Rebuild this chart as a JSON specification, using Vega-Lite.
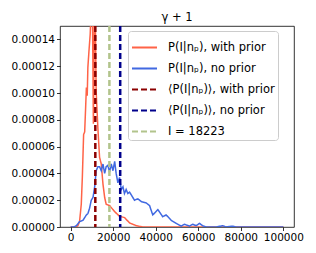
{
  "$schema": "https://vega.github.io/schema/vega-lite/v6.json",
  "width": 234,
  "height": 201,
  "autosize": "none",
  "padding": {"left": 60, "top": 26, "right": 22, "bottom": 26},
  "background": "white",
  "config": {
    "font": "DejaVu Sans",
    "view": {"stroke": "#000", "strokeWidth": 0.8},
    "axis": {
      "grid": false, "domain": false, "labelFont": "DejaVu Sans", "labelFontSize": 10.5,
      "labelColor": "#000", "tickColor": "#000", "tickSize": 3.5, "tickWidth": 0.8,
      "labelPadding": 2, "title": null
    },
    "legend": {
      "orient": "none", "legendX": 68, "legendY": 5,
      "fillColor": "rgba(255,255,255,0.8)", "strokeColor": "#cccccc", "cornerRadius": 3,
      "padding": 3, "symbolType": "stroke", "symbolSize": 625, "symbolStrokeWidth": 2,
      "rowPadding": 2, "labelFont": "DejaVu Sans", "labelFontSize": 11.5, "labelColor": "#000",
      "labelOffset": 10, "labelLimit": 200
    }
  },
  "title": {"text": "γ + 1", "fontSize": 11.5, "fontWeight": "normal", "font": "DejaVu Sans", "color": "#000", "offset": 3},
  "datasets": {
    "curves": [
      {"series": "P(I|nₚ), with prior", "x": 0, "y": 0},
      {"series": "P(I|nₚ), with prior", "x": 2500, "y": 0},
      {"series": "P(I|nₚ), with prior", "x": 3400, "y": 0.000001},
      {"series": "P(I|nₚ), with prior", "x": 4200, "y": 0.000004},
      {"series": "P(I|nₚ), with prior", "x": 5000, "y": 0.000017},
      {"series": "P(I|nₚ), with prior", "x": 5500, "y": 0.000037},
      {"series": "P(I|nₚ), with prior", "x": 6100, "y": 0.000069},
      {"series": "P(I|nₚ), with prior", "x": 6600, "y": 0.000071},
      {"series": "P(I|nₚ), with prior", "x": 7000, "y": 0.000087},
      {"series": "P(I|nₚ), with prior", "x": 7400, "y": 0.000104},
      {"series": "P(I|nₚ), with prior", "x": 7800, "y": 0.000098},
      {"series": "P(I|nₚ), with prior", "x": 8100, "y": 0.000119},
      {"series": "P(I|nₚ), with prior", "x": 8600, "y": 0.000131},
      {"series": "P(I|nₚ), with prior", "x": 9200, "y": 0.000144},
      {"series": "P(I|nₚ), with prior", "x": 9700, "y": 0.000165},
      {"series": "P(I|nₚ), with prior", "x": 10200, "y": 0.00017},
      {"series": "P(I|nₚ), with prior", "x": 10700, "y": 0.000077},
      {"series": "P(I|nₚ), with prior", "x": 11200, "y": 0.00016},
      {"series": "P(I|nₚ), with prior", "x": 11600, "y": 0.000155},
      {"series": "P(I|nₚ), with prior", "x": 12000, "y": 0.000101},
      {"series": "P(I|nₚ), with prior", "x": 12800, "y": 0.000074},
      {"series": "P(I|nₚ), with prior", "x": 13600, "y": 0.000052},
      {"series": "P(I|nₚ), with prior", "x": 14400, "y": 0.000047},
      {"series": "P(I|nₚ), with prior", "x": 15200, "y": 0.000032},
      {"series": "P(I|nₚ), with prior", "x": 16000, "y": 0.000022},
      {"series": "P(I|nₚ), with prior", "x": 16700, "y": 0.000017},
      {"series": "P(I|nₚ), with prior", "x": 18300, "y": 0.000016},
      {"series": "P(I|nₚ), with prior", "x": 19900, "y": 0.000013},
      {"series": "P(I|nₚ), with prior", "x": 21000, "y": 0.000011},
      {"series": "P(I|nₚ), with prior", "x": 23000, "y": 0.000008},
      {"series": "P(I|nₚ), with prior", "x": 25400, "y": 0.000007},
      {"series": "P(I|nₚ), with prior", "x": 27700, "y": 0.000003},
      {"series": "P(I|nₚ), with prior", "x": 30800, "y": 0.000001},
      {"series": "P(I|nₚ), with prior", "x": 34000, "y": 0},
      {"series": "P(I|nₚ), with prior", "x": 100000, "y": 0},
      {"series": "P(I|nₚ), no prior", "x": 0, "y": 0},
      {"series": "P(I|nₚ), no prior", "x": 1500, "y": 0},
      {"series": "P(I|nₚ), no prior", "x": 2700, "y": 0.000001},
      {"series": "P(I|nₚ), no prior", "x": 4200, "y": 0.000004},
      {"series": "P(I|nₚ), no prior", "x": 5800, "y": 0.000005},
      {"series": "P(I|nₚ), no prior", "x": 7400, "y": 0.000009},
      {"series": "P(I|nₚ), no prior", "x": 8100, "y": 0.00001},
      {"series": "P(I|nₚ), no prior", "x": 8900, "y": 0.000014},
      {"series": "P(I|nₚ), no prior", "x": 9700, "y": 0.00002},
      {"series": "P(I|nₚ), no prior", "x": 10500, "y": 0.000022},
      {"series": "P(I|nₚ), no prior", "x": 11300, "y": 0.00003},
      {"series": "P(I|nₚ), no prior", "x": 12000, "y": 0.000042},
      {"series": "P(I|nₚ), no prior", "x": 12800, "y": 0.000045},
      {"series": "P(I|nₚ), no prior", "x": 13600, "y": 0.000045},
      {"series": "P(I|nₚ), no prior", "x": 14400, "y": 0.000042},
      {"series": "P(I|nₚ), no prior", "x": 15200, "y": 0.000047},
      {"series": "P(I|nₚ), no prior", "x": 16000, "y": 0.00004},
      {"series": "P(I|nₚ), no prior", "x": 16700, "y": 0.000045},
      {"series": "P(I|nₚ), no prior", "x": 17500, "y": 0.000046},
      {"series": "P(I|nₚ), no prior", "x": 18300, "y": 0.000041},
      {"series": "P(I|nₚ), no prior", "x": 19100, "y": 0.000047},
      {"series": "P(I|nₚ), no prior", "x": 19900, "y": 0.000042},
      {"series": "P(I|nₚ), no prior", "x": 20700, "y": 0.000049},
      {"series": "P(I|nₚ), no prior", "x": 21400, "y": 0.00004},
      {"series": "P(I|nₚ), no prior", "x": 22200, "y": 0.000033},
      {"series": "P(I|nₚ), no prior", "x": 23000, "y": 0.000037},
      {"series": "P(I|nₚ), no prior", "x": 23800, "y": 0.000028},
      {"series": "P(I|nₚ), no prior", "x": 24600, "y": 0.00003},
      {"series": "P(I|nₚ), no prior", "x": 25300, "y": 0.000025},
      {"series": "P(I|nₚ), no prior", "x": 26100, "y": 0.000028},
      {"series": "P(I|nₚ), no prior", "x": 26900, "y": 0.000025},
      {"series": "P(I|nₚ), no prior", "x": 27700, "y": 0.000026},
      {"series": "P(I|nₚ), no prior", "x": 28500, "y": 0.000024},
      {"series": "P(I|nₚ), no prior", "x": 30000, "y": 0.00002},
      {"series": "P(I|nₚ), no prior", "x": 31600, "y": 0.000021},
      {"series": "P(I|nₚ), no prior", "x": 33200, "y": 0.000019},
      {"series": "P(I|nₚ), no prior", "x": 35500, "y": 0.000018},
      {"series": "P(I|nₚ), no prior", "x": 37100, "y": 0.000016},
      {"series": "P(I|nₚ), no prior", "x": 38600, "y": 0.000009},
      {"series": "P(I|nₚ), no prior", "x": 41000, "y": 0.000013},
      {"series": "P(I|nₚ), no prior", "x": 43300, "y": 0.0000077},
      {"series": "P(I|nₚ), no prior", "x": 44900, "y": 0.000009},
      {"series": "P(I|nₚ), no prior", "x": 47300, "y": 0.000005},
      {"series": "P(I|nₚ), no prior", "x": 49600, "y": 0.0000027},
      {"series": "P(I|nₚ), no prior", "x": 52000, "y": 0.0000007},
      {"series": "P(I|nₚ), no prior", "x": 53500, "y": 0.000002},
      {"series": "P(I|nₚ), no prior", "x": 55900, "y": 0.0000007},
      {"series": "P(I|nₚ), no prior", "x": 57400, "y": 0.000002},
      {"series": "P(I|nₚ), no prior", "x": 59000, "y": 0.000001},
      {"series": "P(I|nₚ), no prior", "x": 60600, "y": 0.0000027},
      {"series": "P(I|nₚ), no prior", "x": 62000, "y": 0.000001},
      {"series": "P(I|nₚ), no prior", "x": 63700, "y": 0},
      {"series": "P(I|nₚ), no prior", "x": 68400, "y": 0},
      {"series": "P(I|nₚ), no prior", "x": 71500, "y": 0.000001},
      {"series": "P(I|nₚ), no prior", "x": 73000, "y": 0},
      {"series": "P(I|nₚ), no prior", "x": 76000, "y": 0.0000006},
      {"series": "P(I|nₚ), no prior", "x": 78000, "y": 0},
      {"series": "P(I|nₚ), no prior", "x": 100000, "y": 0}
    ],
    "rules": [
      {"series": "⟨P(I|nₚ)⟩, with prior", "x": 11600},
      {"series": "⟨P(I|nₚ)⟩, no prior", "x": 23300},
      {"series": "I = 18223", "x": 18223}
    ]
  },
  "encoding": {
    "x": {
      "field": "x", "type": "quantitative",
      "scale": {"domain": [-5000, 105000], "nice": false, "zero": false},
      "axis": {"values": [0, 20000, 40000, 60000, 80000, 100000], "format": "d"}
    },
    "color": {
      "field": "series", "type": "nominal", "title": null,
      "scale": {
        "domain": ["P(I|nₚ), with prior", "P(I|nₚ), no prior", "⟨P(I|nₚ)⟩, with prior", "⟨P(I|nₚ)⟩, no prior", "I = 18223"],
        "range": ["#ff6347", "#4169e1", "#8b0000", "#00008b", "#b2c48c"]
      }
    },
    "strokeDash": {
      "field": "series", "type": "nominal", "title": null,
      "scale": {
        "domain": ["P(I|nₚ), with prior", "P(I|nₚ), no prior", "⟨P(I|nₚ)⟩, with prior", "⟨P(I|nₚ)⟩, no prior", "I = 18223"],
        "range": [[1, 0], [1, 0], [6, 3], [6, 3], [6, 3]]
      }
    }
  },
  "layer": [
    {
      "data": {"name": "curves"},
      "mark": {"type": "line", "strokeWidth": 1.5, "clip": true},
      "encoding": {
        "y": {
          "field": "y", "type": "quantitative",
          "scale": {"domain": [0, 0.00015], "nice": false, "zero": false},
          "axis": {"values": [0, 0.00002, 0.00004, 0.00006, 0.00008, 0.0001, 0.00012, 0.00014], "format": ".5f"}
        }
      }
    },
    {
      "data": {"name": "rules"},
      "mark": {"type": "rule", "strokeWidth": 2.5, "clip": true},
      "encoding": {}
    }
  ]
}
